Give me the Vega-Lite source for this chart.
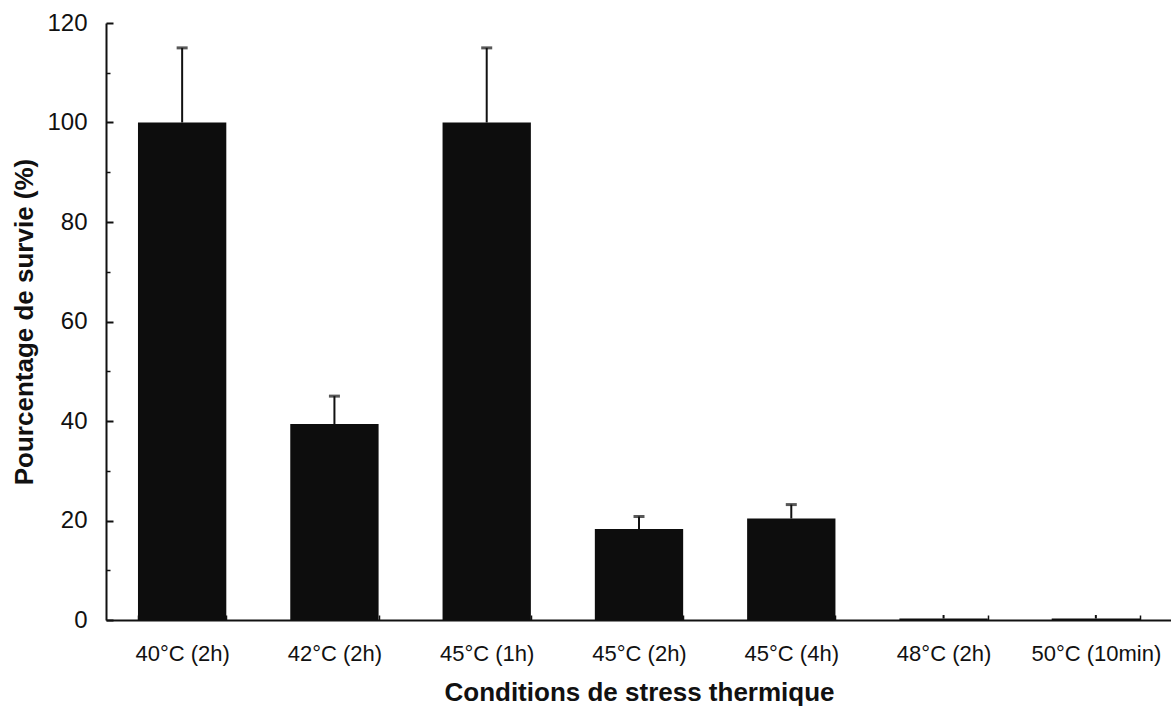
{
  "$schema": "https://vega.github.io/schema/vega-lite/v6.json",
  "width": 1066,
  "height": 597,
  "autosize": "none",
  "padding": {"left": 106, "top": 23, "right": 0, "bottom": 86},
  "background": "white",
  "config": {"view": {"stroke": null}, "font": "Liberation Sans"},
  "data": {"values": [
    {"condition": "40°C (2h)", "survie": 100, "upper": 115},
    {"condition": "42°C (2h)", "survie": 39.4, "upper": 45},
    {"condition": "45°C (1h)", "survie": 100, "upper": 115},
    {"condition": "45°C (2h)", "survie": 18.3, "upper": 20.8},
    {"condition": "45°C (4h)", "survie": 20.4, "upper": 23.2},
    {"condition": "48°C (2h)", "survie": 0.3, "upper": 1.0},
    {"condition": "50°C (10min)", "survie": 0.3, "upper": 1.0}
  ]},
  "encoding": {
    "x": {
      "field": "condition",
      "type": "nominal",
      "sort": null,
      "scale": {"paddingInner": 0.42, "paddingOuter": 0.21},
      "axis": {
        "title": "Conditions de stress thermique",
        "titleFont": "Liberation Sans",
        "titleFontWeight": "bold",
        "titleFontSize": 26,
        "titleColor": "#111",
        "titleBaseline": "alphabetic",
        "titleY": 80,
        "labelAngle": 0,
        "labelFont": "Liberation Sans",
        "labelFontSize": 22,
        "labelColor": "#111",
        "labelBaseline": "alphabetic",
        "labelPadding": 45,
        "tickBand": "extent",
        "tickSize": -5,
        "tickWidth": 1.5,
        "tickColor": "#111",
        "domainColor": "#111",
        "domainWidth": 2,
        "grid": false
      }
    }
  },
  "layer": [
    {
      "mark": {"type": "bar", "color": "#0d0d0d"},
      "encoding": {
        "y": {
          "field": "survie",
          "type": "quantitative",
          "scale": {"domain": [0, 120], "nice": false},
          "axis": {
            "orient": "left",
            "values": [0, 20, 40, 60, 80, 100, 120],
            "title": "Pourcentage de survie (%)",
            "titleFont": "Liberation Sans",
            "titleFontWeight": "bold",
            "titleFontSize": 26,
            "titleColor": "#111",
            "titleBaseline": "alphabetic",
            "titleX": -74,
            "labelFont": "Liberation Sans",
            "labelFontSize": 24,
            "labelColor": "#111",
            "labelPadding": 26,
            "tickSize": -7,
            "tickWidth": 2,
            "tickColor": "#111",
            "domainColor": "#111",
            "domainWidth": 2,
            "grid": false
          }
        }
      }
    },
    {
      "mark": {"type": "rule", "color": "#111", "strokeWidth": 2},
      "encoding": {
        "y": {
          "field": "survie",
          "type": "quantitative",
          "axis": {
            "orient": "left",
            "values": [10, 30, 50, 70, 90, 110],
            "labels": false,
            "domain": false,
            "title": null,
            "tickSize": -4,
            "tickWidth": 1.5,
            "tickColor": "#111",
            "grid": false
          }
        },
        "y2": {"field": "upper"}
      }
    },
    {
      "transform": [{"filter": "datum.upper > 5"}],
      "mark": {"type": "tick", "color": "#111", "thickness": 3, "size": 11},
      "encoding": {
        "y": {"field": "upper", "type": "quantitative", "axis": null}
      }
    }
  ],
  "resolve": {"axis": {"y": "independent"}}
}
